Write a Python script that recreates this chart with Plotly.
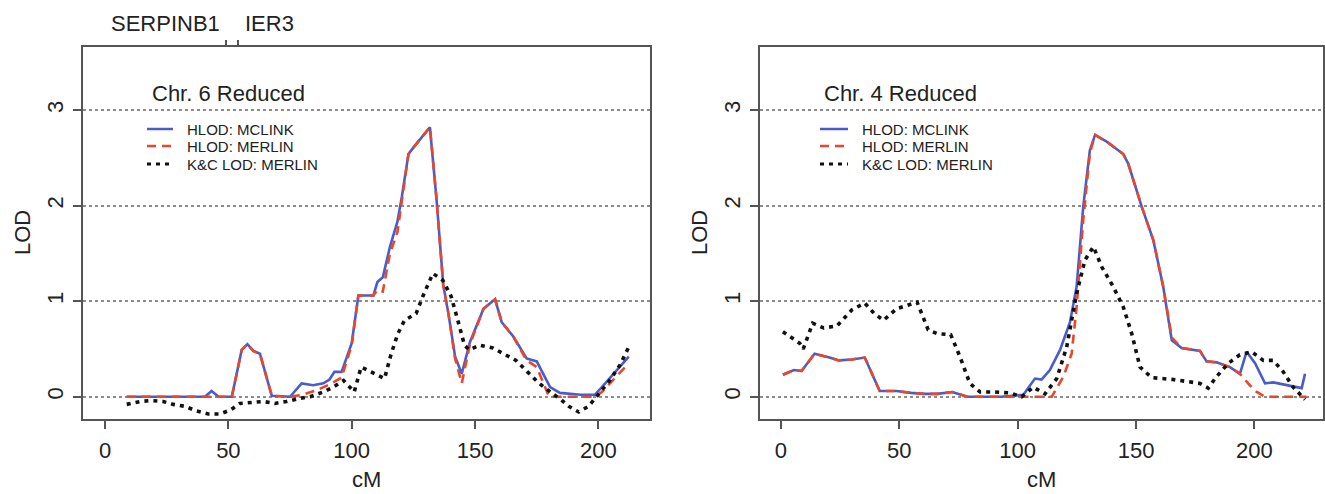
import plotly.graph_objects as go

# ---------------- data ----------------
# Chr. 6 panel
chr6_mclink_cm = [8.8, 40.5, 43.2, 46, 51.4, 55.4, 57.7, 60.1, 62.8, 67.6, 75, 79.7, 84.4, 88.5, 91, 93,
                  95.9, 100, 102.7, 108.8, 110.4, 112.6, 115.5, 118.5, 120.3, 123, 125.7, 131.7, 134.4, 137.1,
                  139.2, 141.9, 144.6, 147.9, 153.4, 158.1, 160.8, 165.5, 170.9, 175, 180.4, 184.4, 192.8,
                  198.5, 201.4, 207, 212.3]
chr6_mclink_lod = [0, 0, 0.06, 0, 0, 0.49, 0.55, 0.48, 0.45, 0.01, 0, 0.14, 0.12, 0.14, 0.18, 0.26,
                   0.26, 0.56, 1.06, 1.06, 1.20, 1.25, 1.57, 1.83, 2.09, 2.54, 2.63, 2.82, 2.06, 1.17,
                   0.87, 0.42, 0.24, 0.57, 0.92, 1.02, 0.78, 0.63, 0.40, 0.37, 0.10, 0.04, 0.02,
                   0.02, 0.10, 0.26, 0.42]

chr6_merlin_cm = [8.8, 42, 46, 51.4, 55.4, 57.7, 60.1, 62.8, 67.6, 75, 80, 86, 91, 95.9, 100, 102.7, 108.8,
                  110.4, 112.6, 115.5, 118.5, 120.3, 123, 125.7, 131.7, 134.4, 137.1, 139.2, 141.9, 144.6,
                  147.9, 153.4, 158.1, 160.8, 165.5, 170.9, 175, 180, 198.5, 201.4, 207, 212.3]
chr6_merlin_lod = [0, 0, 0, 0, 0.49, 0.55, 0.48, 0.45, 0.01, 0, 0.02, 0.07, 0.13, 0.20, 0.54, 1.06, 1.06,
                   1.12, 1.10, 1.50, 1.72, 2.06, 2.54, 2.63, 2.82, 2.06, 1.17, 0.87, 0.40, 0.14,
                   0.55, 0.92, 1.02, 0.78, 0.63, 0.38, 0.31, 0, 0, 0.05, 0.20, 0.35]

chr6_kc_cm = [8.8, 14.2, 18.9, 23.6, 27.7, 32.4, 37.2, 41.9, 46.6, 50.7, 54.7, 59.4, 64.2, 68.9, 73.6, 78.3,
              83.1, 88.5, 92.5, 96.7, 101, 103.8, 108, 113.3, 116, 118.7, 121.4, 126.1, 128.8, 132.9, 136.9,
              140.3, 143, 145.7, 147.7, 151.8, 157.2, 161.9, 166.6, 172, 176, 181.5, 184.8, 188, 192, 196,
              200, 204.3, 208.7, 212.3]
chr6_kc_lod = [-0.08, -0.05, -0.04, -0.05, -0.08, -0.10, -0.15, -0.18, -0.18, -0.14, -0.07, -0.06, -0.05,
               -0.07, -0.05, -0.02, 0, 0.05, 0.10, 0.17, 0.05, 0.31, 0.26, 0.19, 0.45, 0.66, 0.80, 0.87,
               1.05, 1.29, 1.22, 1.05, 0.80, 0.54, 0.49, 0.54, 0.51, 0.45, 0.38, 0.24, 0.14, 0.03, -0.03,
               -0.10, -0.16, -0.10, 0.02, 0.16, 0.33, 0.52]

# Chr. 4 panel
chr4_mclink_cm = [0.8, 5.5, 8.7, 14.2, 20.5, 24.4, 30, 35.4, 41.7, 48.8, 55, 60.6, 66, 72.4, 78.7, 85, 93,
                  102.4, 107.3, 110.1, 113.6, 117.9, 122.1, 124.9, 127.7, 130.5, 132.7, 137.6, 144.6, 146.7,
                  152.4, 157.3, 161.5, 165.1, 169.3, 177, 179.8, 184, 189.7, 193.9, 196.7, 200.3, 204.5,
                  208, 213.6, 217.9, 220, 221.4]
chr4_mclink_lod = [0.23, 0.28, 0.27, 0.45, 0.41, 0.38, 0.39, 0.41, 0.06, 0.06, 0.04, 0.03, 0.03, 0.05, 0,
                   0, 0, 0.02, 0.19, 0.18, 0.28, 0.49, 0.78, 1.15, 1.99, 2.58, 2.74, 2.67, 2.54, 2.44,
                   1.99, 1.64, 1.15, 0.59, 0.51, 0.48, 0.37, 0.36, 0.31, 0.24, 0.47, 0.35, 0.14,
                   0.15, 0.12, 0.10, 0.09, 0.24]

chr4_merlin_cm = [0.8, 5.5, 8.7, 14.2, 20.5, 24.4, 30, 35.4, 41.7, 48.8, 55, 60.6, 66, 72.4, 78.7, 85, 93,
                  102.4, 114.4, 119.3, 122.8, 124.9, 127.7, 130.5, 132.7, 137.6, 144.6, 146.7, 152.4, 157.3,
                  161.5, 165.1, 169.3, 177, 179.8, 184, 189.7, 193.9, 198.1, 201, 204.5, 222]
chr4_merlin_lod = [0.23, 0.28, 0.27, 0.45, 0.41, 0.38, 0.39, 0.41, 0.06, 0.06, 0.04, 0.03, 0.03, 0.05, 0,
                   0, 0, 0, 0, 0.21, 0.45, 0.94, 1.85, 2.55, 2.74, 2.67, 2.54, 2.44, 1.99, 1.64,
                   1.15, 0.62, 0.51, 0.48, 0.37, 0.36, 0.31, 0.24, 0.12, 0.05, 0, 0]

chr4_kc_cm = [0.8, 7.9, 9.4, 13.4, 18, 23.6, 30, 35.4, 39.4, 43.3, 48.8, 53.5, 57.5, 62.2, 66, 71.7, 75.6,
              79.8, 84.1, 89.7, 96.7, 101.7, 106.6, 111.5, 116.5, 120.7, 124.9, 128.4, 132, 135.5, 140.4,
              144.6, 148.2, 151.7, 156.6, 165.7, 172.8, 177, 180.5, 184, 189, 193.9, 198.9, 203.8, 208,
              212.2, 216.4, 221.4]
chr4_kc_lod = [0.68, 0.56, 0.50, 0.77, 0.72, 0.74, 0.91, 0.98, 0.87, 0.80, 0.92, 0.96, 0.99, 0.70, 0.66,
               0.65, 0.42, 0.14, 0.05, 0.05, 0.04, 0, 0.10, 0.03, 0.19, 0.52, 1.08, 1.43, 1.57, 1.36, 1.15,
               0.94, 0.66, 0.31, 0.20, 0.18, 0.16, 0.14, 0.09, 0.21, 0.35, 0.44, 0.47, 0.38, 0.38,
               0.26, 0.10, -0.03]

x_ticks = [0, 50, 100, 150, 200]
y_ticks = [0, 1, 2, 3]
gene_names = ["SERPINB1", "IER3"]
gene_cm = [49, 54]
panel_titles = ["Chr. 6 Reduced", "Chr. 4 Reduced"]
series_names = ["HLOD: MCLINK", "HLOD: MERLIN", "K&C LOD: MERLIN"]

# ---------------- style ----------------
W, H = 1325, 494
FONT = "Liberation Sans, Arial, Helvetica, sans-serif"
TXT = "#222222"
AX = "#555555"
BLUE = "#4A5CC8"
RED = "#E8472E"
BLACK = "#111111"
styles = [dict(color=BLUE, width=2.6, dash="solid"),
          dict(color=RED, width=2.6, dash="9px,6px"),
          dict(color=BLACK, width=3.6, dash="4px,5px")]


def px(x):
    return x / W


def py(y):
    return 1 - y / H


fig = go.Figure()

panels = [
    ("x", "y", [(chr6_mclink_cm, chr6_mclink_lod), (chr6_merlin_cm, chr6_merlin_lod), (chr6_kc_cm, chr6_kc_lod)]),
    ("x2", "y2", [(chr4_mclink_cm, chr4_mclink_lod), (chr4_merlin_cm, chr4_merlin_lod), (chr4_kc_cm, chr4_kc_lod)]),
]
for xa, ya, series in panels:
    for (cm, lod), st, name in zip(series, styles, series_names):
        fig.add_trace(go.Scatter(x=cm, y=lod, mode="lines", name=name, line=st,
                                 xaxis=xa, yaxis=ya, showlegend=False, hoverinfo="skip"))

# invisible trace on the top axis that carries the gene marker ticks
fig.add_trace(go.Scatter(x=gene_cm, y=[None, None], xaxis="x3", yaxis="y", showlegend=False,
                         mode="markers", hoverinfo="skip"))

ydom = [py(419), py(47)]
yrange = [-0.233, 3.66]
common_x = dict(tickvals=x_ticks, ticks="outside", ticklen=8, tickwidth=1.5, tickcolor=AX,
                showline=True, mirror=True, linecolor=AX, linewidth=2, showgrid=False, zeroline=False,
                tickfont=dict(family=FONT, size=22, color=TXT), ticklabelstandoff=3)
common_y = dict(tickvals=y_ticks, ticks="outside", ticklen=8, tickwidth=1.5, tickcolor=AX,
                showline=True, mirror=True, linecolor=AX, linewidth=2, showgrid=True,
                gridcolor="#8c8c8c", griddash="dot", gridwidth=1.5, zeroline=False, range=yrange,
                domain=ydom, tickangle=-90, tickfont=dict(family=FONT, size=22, color=TXT),
                ticklabelstandoff=1)

fig.update_layout(
    width=W, height=H, margin=dict(l=0, r=0, t=0, b=0),
    paper_bgcolor="white", plot_bgcolor="white", showlegend=False,
    xaxis=dict(domain=[px(83), px(650)], range=[-8.92, 220.9], anchor="y", **common_x),
    yaxis=dict(anchor="x", **common_y),
    xaxis2=dict(domain=[px(760), px(1323)], range=[-8.87, 229.0], anchor="y2", **common_x),
    yaxis2=dict(anchor="x2", **common_y),
    xaxis3=dict(overlaying="x", side="top", anchor="y", range=[-8.92, 220.9], tickvals=gene_cm,
                ticks="outside", ticklen=6, tickwidth=1.5, tickcolor=AX, showticklabels=False,
                showgrid=False, zeroline=False, showline=False),
)

ann = []
# gene labels
ann.append(dict(x=gene_cm[0], xref="x", y=py(23), yref="paper", text=gene_names[0], showarrow=False,
                xanchor="right", yanchor="middle", xshift=-4, font=dict(family=FONT, size=22, color=TXT)))
ann.append(dict(x=gene_cm[1], xref="x", y=py(23), yref="paper", text=gene_names[1], showarrow=False,
                xanchor="left", yanchor="middle", xshift=5, font=dict(family=FONT, size=22, color=TXT)))

shapes = []
for i, (bx0, bx1) in enumerate([(83, 650), (760, 1323)]):
    cx = (bx0 + bx1) / 2
    # axis titles
    ann.append(dict(x=px(cx), y=0, xref="paper", yref="paper", text="cM", showarrow=False,
                    xanchor="center", yanchor="bottom", yshift=0, font=dict(family=FONT, size=22, color=TXT)))
    ann.append(dict(x=px(bx0 - 61), y=py(233), xref="paper", yref="paper", text="LOD", showarrow=False,
                    textangle=-90, xanchor="center", yanchor="middle",
                    font=dict(family=FONT, size=22, color=TXT)))
    # panel title
    tx = 150 if i == 0 else 822
    ann.append(dict(x=px(tx), y=py(93), xref="paper", yref="paper", text=panel_titles[i], showarrow=False,
                    xanchor="left", yanchor="middle", font=dict(family=FONT, size=22, color=TXT)))
    # legend
    lx0 = 147 if i == 0 else 820
    lx1 = 173 if i == 0 else 848
    ltx = 185 if i == 0 else 860
    for r, (st, name) in enumerate(zip(styles, series_names)):
        yy = [129, 146, 164][r]
        shapes.append(dict(type="line", xref="paper", yref="paper", x0=px(lx0), x1=px(lx1),
                           y0=py(yy), y1=py(yy), line=dict(color=st["color"], width=2.5 if r < 2 else 3,
                                                           dash=st["dash"])))
        ann.append(dict(x=px(ltx), y=py(yy), xref="paper", yref="paper", text=name, showarrow=False,
                        xanchor="left", yanchor="middle", font=dict(family=FONT, size=15, color=TXT)))

fig.update_layout(annotations=ann, shapes=shapes)

fig.write_html("out.html", config={"displayModeBar": False},
               post_script="document.body.style.margin='0';")
